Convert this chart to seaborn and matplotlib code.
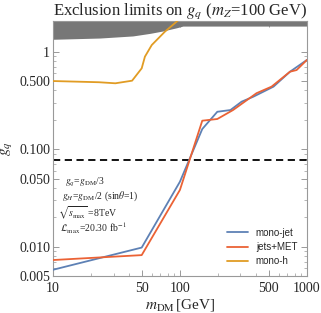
import numpy as np
import pandas as pd
import matplotlib
matplotlib.use("Agg")
import matplotlib.pyplot as plt
import seaborn as sns
from matplotlib.ticker import FixedLocator, NullFormatter, LogLocator

sns.set_style("ticks")
plt.rcParams['font.family'] = ['Liberation Serif', 'DejaVu Serif']
plt.rcParams['mathtext.fontset'] = 'stix'

# mono-jet
m_jet = [10, 50, 100, 150, 197, 250, 306, 378, 546, 736, 1000]
g_jet = [0.0058, 0.0098, 0.0464, 0.161, 0.242, 0.252, 0.307, 0.345, 0.438, 0.623, 0.822]
# jets+MET
m_met = [10, 50, 100, 150, 197, 262, 401, 527, 736, 830, 1000]
g_met = [0.0073, 0.0082, 0.0382, 0.196, 0.204, 0.252, 0.375, 0.438, 0.623, 0.648, 0.822]
# mono-h
m_h = [10, 23, 31, 42, 50, 53, 60, 76, 95, 100]
g_h = [0.50, 0.486, 0.474, 0.504, 0.675, 0.889, 1.17, 1.60, 2.05, 2.2]
# excluded (grey) band lower edge
m_band = [10, 23.4, 42.6, 58, 73.4, 94.5, 105.6, 1000]
g_band = [1.34, 1.38, 1.45, 1.54, 1.63, 1.76, 1.83, 1.83]
g_ref = 0.077

xticks = [10, 50, 100, 500, 1000]
yticks = [0.005, 0.01, 0.05, 0.1, 0.5, 1]
ylabels = ["0.005", "0.010", "0.050", "0.100", "0.500", "1"]

notes = [r'$g_q$=$g_{\rm DM}$/3',
         r'$g_H$=$g_{\rm DM}$/2 (sin$\theta$=1)',
         r'$\sqrt{s_{\rm max}}$ =8TeV',
         r'$\mathcal{L}_{\rm max}$=20.30 fb$^{-1}$']

df = pd.concat([
    pd.DataFrame({'m': m_jet, 'g': g_jet, 'channel': 'mono-jet'}),
    pd.DataFrame({'m': m_met, 'g': g_met, 'channel': 'jets+MET'}),
    pd.DataFrame({'m': m_h, 'g': g_h, 'channel': 'mono-h'}),
])
palette = {'mono-jet': '#5E81B5', 'jets+MET': '#EB6235', 'mono-h': '#E19C24'}

fig = plt.figure(figsize=(3.21, 3.13), dpi=100)
ax = fig.add_axes([0.165, 0.118, 0.791, 0.816])

ymax = 2.08
ax.fill_between(m_band, g_band, ymax, color='#777777', lw=0, zorder=1)
sns.lineplot(data=df, x='m', y='g', hue='channel', palette=palette,
             sort=False, estimator=None, lw=1.3, ax=ax, zorder=3)
ax.axhline(g_ref, color='black', ls=(0, (4, 2.5)), lw=1.3, zorder=2)

ax.set_xscale('log')
ax.set_yscale('log')
ax.set_xlim(10, 1000)
ax.set_ylim(0.005, ymax)

ax.xaxis.set_major_locator(FixedLocator(xticks))
ax.set_xticklabels([str(t) for t in xticks])
ax.yaxis.set_major_locator(FixedLocator(yticks))
ax.set_yticklabels(ylabels)
ax.xaxis.set_minor_locator(LogLocator(subs=np.arange(2, 10)))
ax.yaxis.set_minor_locator(LogLocator(subs=np.arange(2, 10)))
ax.xaxis.set_minor_formatter(NullFormatter())
ax.yaxis.set_minor_formatter(NullFormatter())
ax.tick_params(which='both', direction='in', top=True, right=True,
               color='#999999', labelsize=10)
ax.tick_params(axis='y', pad=2)
ax.tick_params(axis='x', pad=4)
ax.tick_params(which='major', length=4, width=0.7)
ax.tick_params(which='minor', length=2, width=0.5)
for s in ax.spines.values():
    s.set_color('#999999')
    s.set_linewidth(0.8)

ax.set_xlabel(r'$m_{\rm DM}\,$[GeV]', fontsize=11, labelpad=2)
ax.set_ylabel(r'$g_q$', fontsize=11, labelpad=4)
ax.set_title(r"Exclusion limits on $g_q$ ($m_{Z}$=100 GeV)", fontsize=12, pad=4)

note_y = [0.368, 0.312, 0.250, 0.188]
note_x = [0.047, 0.035, 0.02, 0.028]
for t, xx, yy in zip(notes, note_x, note_y):
    ax.text(xx, yy, t, transform=ax.transAxes, fontsize=7, va='center')

leg = ax.legend(loc='lower right', frameon=False, handlelength=2.2,
                labelspacing=0.45, borderaxespad=0.6,
                prop={'family': 'Liberation Sans', 'size': 7})

fig.patch.set_facecolor('white')
fig.savefig('out.png', dpi=100)
